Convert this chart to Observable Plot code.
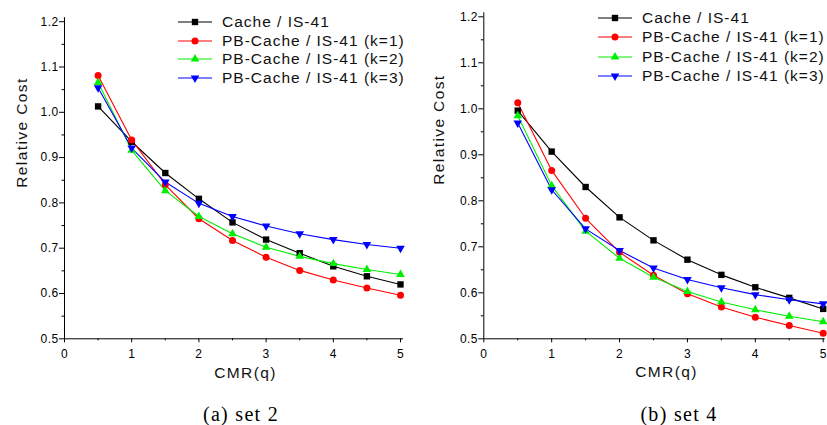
<!DOCTYPE html>
<html><head><meta charset="utf-8">
<script src="https://cdn.jsdelivr.net/npm/d3@7"></script>
<script src="https://cdn.jsdelivr.net/npm/@observablehq/plot@0.6"></script>
<style>
body{margin:0;background:#fff;}
#root{position:relative;width:827px;height:425px;overflow:hidden;font-family:"Liberation Sans",Arial,sans-serif;background:#fff;}
.panel{position:absolute;top:0;}
.caption{position:absolute;top:404px;font-family:"Liberation Serif","Times New Roman",serif;font-size:20px;letter-spacing:1.3px;line-height:20px;white-space:nowrap;transform:translateX(-50%);color:#000;}
.legend{position:absolute;}
.legend .row{position:absolute;left:0;display:flex;align-items:center;height:18px;white-space:nowrap;font-size:15.5px;letter-spacing:1px;color:#111;}
.legend .row svg{margin-right:10px;}
svg [aria-label="x-axis tick label"] text, svg [aria-label="y-axis tick label"] text{letter-spacing:0.4px;}
svg [aria-label="text"] text{letter-spacing:1.4px;}
</style></head>
<body>
<div id="root"></div>
<script>
// ---------- data ----------
const cmr = [0.5, 1, 1.5, 2, 2.5, 3, 3.5, 4, 4.5, 5];
const seriesNames = ["Cache / IS-41", "PB-Cache / IS-41 (k=1)", "PB-Cache / IS-41 (k=2)", "PB-Cache / IS-41 (k=3)"];
// set 2
const cacheSet2 = [1.013, 0.935, 0.866, 0.809, 0.757, 0.719, 0.689, 0.660, 0.638, 0.620];
const pbK1Set2  = [1.081, 0.939, 0.840, 0.765, 0.717, 0.680, 0.651, 0.630, 0.612, 0.596];
const pbK2Set2  = [1.066, 0.916, 0.827, 0.770, 0.732, 0.702, 0.682, 0.666, 0.653, 0.642];
const pbK3Set2  = [1.054, 0.921, 0.846, 0.799, 0.770, 0.749, 0.732, 0.719, 0.708, 0.700];
// set 4
const cacheSet4 = [0.996, 0.907, 0.830, 0.764, 0.714, 0.672, 0.639, 0.612, 0.589, 0.565];
const pbK1Set4  = [1.013, 0.866, 0.762, 0.688, 0.638, 0.598, 0.569, 0.547, 0.529, 0.512];
const pbK2Set4  = [0.985, 0.833, 0.734, 0.675, 0.634, 0.603, 0.580, 0.563, 0.549, 0.537];
const pbK3Set4  = [0.969, 0.824, 0.739, 0.692, 0.654, 0.629, 0.611, 0.596, 0.585, 0.576];
// ticks & labels
const xMajorTicks = [0, 1, 2, 3, 4, 5];
const xMinorTicks = [0.5, 1.5, 2.5, 3.5, 4.5];
const yMajorTicks = [0.5, 0.6, 0.7, 0.8, 0.9, 1.0, 1.1, 1.2];
const yMinorTicks = [0.55, 0.65, 0.75, 0.85, 0.95, 1.05, 1.15];
const xLabel = "CMR(q)";
const yLabel = "Relative Cost";
const captions = ["(a) set 2", "(b) set 4"];

// ---------- styles ----------
const s3 = Math.sqrt(3);
const triangleDown = {
  draw(ctx, size) {
    const y = Math.sqrt(size / (s3 * 3));
    ctx.moveTo(0, 2 * y);
    ctx.lineTo(-s3 * y, -y);
    ctx.lineTo(s3 * y, -y);
    ctx.closePath();
  }
};
const styles = [
  {color: "#000000", symbol: "square", r: 3.6},
  {color: "#ff0000", symbol: "circle", r: 3.5},
  {color: "#00ee00", symbol: "triangle", r: 3.2},
  {color: "#0000ff", symbol: triangleDown, r: 3.2}
];

function tidy(arrays) {
  return arrays.map((vals, i) => vals.map((v, j) => ({series: seriesNames[i], x: cmr[j], y: v, i})));
}

function makePanel(arrays, m) {
  const groups = tidy(arrays);
  const marks = [
    Plot.ruleX([0], {insetTop: -4, stroke: "black"}),
    Plot.ruleY([0.5], {insetRight: m.extendRight, stroke: "black"}),
    Plot.axisX(xMajorTicks, {tickSize: 4, tickPadding: 7, tickFormat: d => String(d), label: null, fontSize: 12}),
    Plot.axisX(xMinorTicks, {tickSize: 2, text: null, label: null}),
    Plot.axisY(yMajorTicks, {tickSize: 5, tickPadding: 1, tickFormat: d => d.toFixed(1), label: null, fontSize: 12}),
    Plot.axisY(yMinorTicks, {tickSize: 2.5, text: null, label: null})
  ];
  groups.forEach((data, i) => {
    const st = styles[i];
    marks.push(Plot.line(data, {x: "x", y: "y", stroke: st.color, strokeWidth: 1.1}));
  });
  groups.forEach((data, i) => {
    const st = styles[i];
    marks.push(Plot.dot(data, {x: "x", y: "y", symbol: st.symbol, r: st.r, fill: st.color, stroke: "none"}));
  });
  marks.push(Plot.text([xLabel], {text: d => d, frameAnchor: "bottom", dx: m.xlDx, dy: m.xlDy, fontSize: 15.5, fill: "#111"}));
  marks.push(Plot.text([yLabel], {text: d => d, frameAnchor: "left", rotate: -90, dx: m.ylDx, dy: m.ylDy, fontSize: 15.5, fill: "#111"}));
  return Plot.plot({
    width: 413, height: 392,
    marginLeft: m.left, marginRight: m.right, marginTop: m.top, marginBottom: m.bottom,
    style: {fontFamily: "'Liberation Sans', Arial, sans-serif", fontSize: "12px", background: "white", color: "black"},
    x: {domain: [0, 5]},
    y: {domain: [0.5, 1.2]},
    marks
  });
}

function makeLegend(left, top, spacing) {
  const lg = document.createElement("div");
  lg.className = "legend";
  lg.style.left = left + "px";
  lg.style.top = top + "px";
  seriesNames.forEach((name, i) => {
    const st = styles[i];
    const row = document.createElement("div");
    row.className = "row";
    row.style.top = (i * spacing - 9) + "px";
    const svg = d3.create("svg").attr("width", 34).attr("height", 14);
    svg.append("line").attr("x1", 0).attr("x2", 34).attr("y1", 7).attr("y2", 7).attr("stroke", st.color).attr("stroke-width", 1.1);
    const type = typeof st.symbol === "string" ? {square: d3.symbolSquare, circle: d3.symbolCircle, triangle: d3.symbolTriangle}[st.symbol] : st.symbol;
    svg.append("path").attr("transform", "translate(17,7)").attr("d", d3.symbol(type, Math.PI * st.r * st.r)()).attr("fill", st.color);
    row.appendChild(svg.node());
    const span = document.createElement("span");
    span.textContent = name;
    row.appendChild(span);
    lg.appendChild(row);
  });
  return lg;
}

const root = document.getElementById("root");

const p1 = document.createElement("div");
p1.className = "panel"; p1.style.left = "0px";
p1.appendChild(makePanel([cacheSet2, pbK1Set2, pbK2Set2, pbK3Set2],
  {left: 64, right: 13, top: 21.2, bottom: 53.7, extendRight: -3, xlDx: 13, xlDy: 39.2, ylDx: -42, ylDy: 7.5}));
root.appendChild(p1);

const p2 = document.createElement("div");
p2.className = "panel"; p2.style.left = "414px";
p2.appendChild(makePanel([cacheSet4, pbK1Set4, pbK2Set4, pbK3Set4],
  {left: 69.3, right: 4.3, top: 16.3, bottom: 53.7, extendRight: -2, xlDx: 13, xlDy: 38.6, ylDx: -45, ylDy: 7}));
root.appendChild(p2);

root.appendChild(makeLegend(178, 22, 18.7));
root.appendChild(makeLegend(598, 17.5, 19.5));

[[captions[0], 241], [captions[1], 679]].forEach(([t, cx]) => {
  const c = document.createElement("div");
  c.className = "caption";
  c.style.left = cx + "px";
  c.textContent = t;
  root.appendChild(c);
});
</script>
</body></html>
